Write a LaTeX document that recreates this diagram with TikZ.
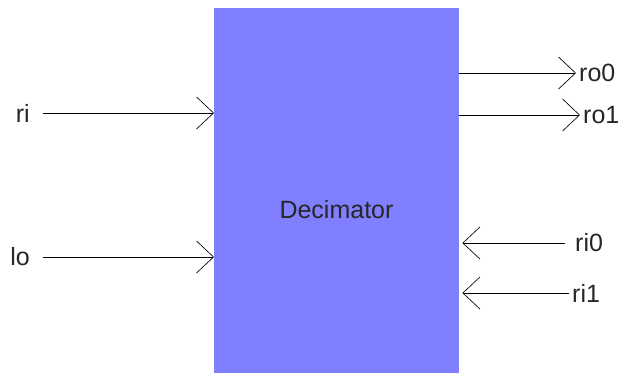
\documentclass[tikz,border=0pt]{standalone}
\usepackage{fontspec}
\setmainfont{Liberation Sans}
\usetikzlibrary{arrows.meta}
\definecolor{boxblue}{HTML}{8080FF}
\tikzset{
  blockbox/.style={draw=none, fill=boxblue, rectangle, minimum width=245pt, minimum height=365pt, inner sep=0pt, anchor=north west},
  lbl/.style={font=\fontsize{25}{29}\selectfont, inner sep=3pt, text=black!85},
  sig/.style={draw=black, line width=0.65pt, -{Straight Barb[length=17pt,width=32pt,line width=0.65pt]}},
}
\begin{document}
\begin{tikzpicture}[x=1pt,y=-1pt]
\useasboundingbox (0,0) rectangle (619,373);
\node[blockbox] (dec) at (214,8) {};
\node[lbl] (declbl) at (336.5,209.5) {Decimator};
% left inputs
\node[lbl, anchor=east] (ri) at (33,113) {ri};
\node[lbl, anchor=east] (lo) at (33,257) {lo};
\draw[sig, shorten <=10pt] (ri.east) -- (dec.west |- ri.east);
\draw[sig, shorten <=10pt] (lo.east) -- (dec.west |- lo.east);
% right outputs
\node[lbl, anchor=west] (ro0) at (576,73) {ro0};
\node[lbl, anchor=west] (ro1) at (580,115) {ro1};
\draw[sig] (dec.east |- ro0.west) -- (ro0.west);
\draw[sig] (dec.east |- ro1.west) -- (ro1.west);
% right inputs
\node[lbl, anchor=west] (ri0) at (572,243) {ri0};
\node[lbl, anchor=west] (ri1) at (569,293) {ri1};
\coordinate (ri0in) at ([xshift=3pt]dec.east |- ri0.west);
\coordinate (ri1in) at ([xshift=3pt]dec.east |- ri1.west);
\draw[sig, shorten <=7pt] (ri0.west) -- (ri0in);
\draw[sig] (ri1.west) -- (ri1in);
\end{tikzpicture}
\end{document}
